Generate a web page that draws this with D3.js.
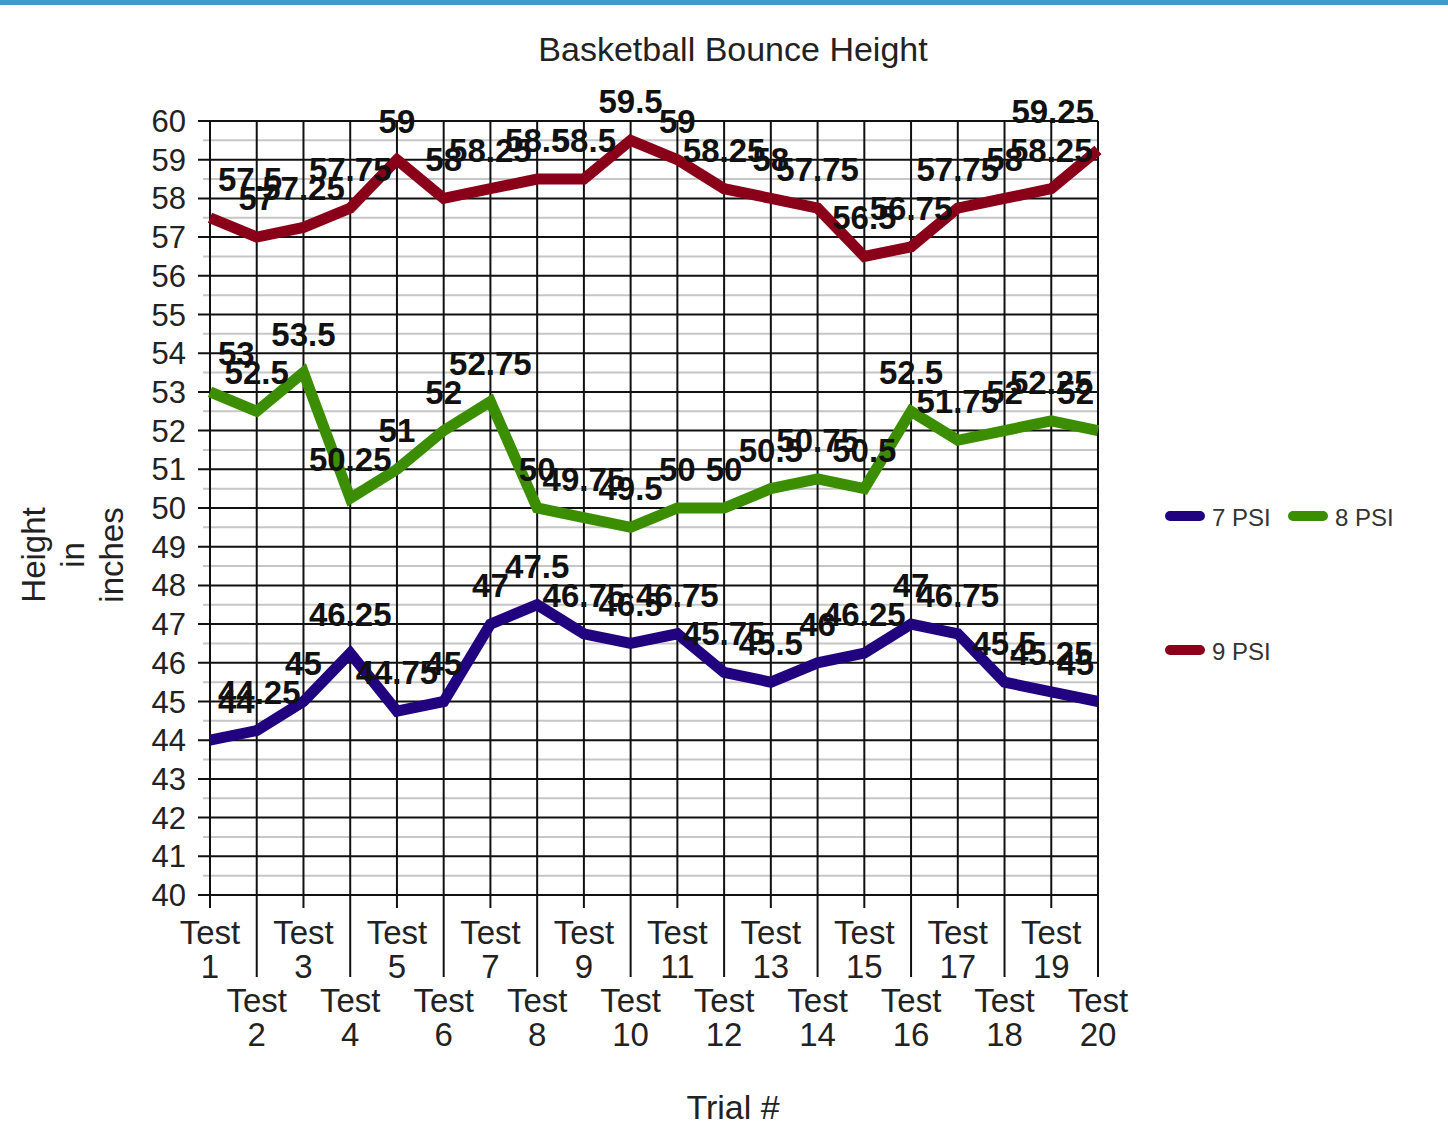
<!DOCTYPE html>
<meta charset="utf-8" />
<style>
  body { margin: 0; background: #fff; overflow: hidden; }
  svg { font-family: "Liberation Sans", Arial, sans-serif; }
</style>
<body>
<svg id="chart" width="1448" height="1133"></svg>
<script src="https://d3js.org/d3.v7.min.js"></script>
<script>
// data
var tests = d3.range(1, 21).map(function (i) { return "Test " + i; });
var psi7 = [44, 44.25, 45, 46.25, 44.75, 45, 47, 47.5, 46.75, 46.5, 46.75, 45.75, 45.5, 46, 46.25, 47, 46.75, 45.5, 45.25, 45];
var psi8 = [53, 52.5, 53.5, 50.25, 51, 52, 52.75, 50, 49.75, 49.5, 50, 50, 50.5, 50.75, 50.5, 52.5, 51.75, 52, 52.25, 52];
var psi9 = [57.5, 57, 57.25, 57.75, 59, 58, 58.25, 58.5, 58.5, 59.5, 59, 58.25, 58, 57.75, 56.5, 56.75, 57.75, 58, 58.25, 59.25];
var seriesNames = ["7 PSI", "8 PSI", "9 PSI"];
var seriesColors = ["#22037f", "#3b8e00", "#8a0018"];
var yTicks = d3.range(40, 61);

var pLeft = 210, pRight = 1098, pTop = 121, pBottom = 895;

var svg = d3.select("#chart");

// thin blue bar across the top of the screenshot
svg.append("rect").attr("x", 0).attr("y", 0).attr("width", 1448).attr("height", 5).attr("fill", "#3f9bcb");

var x = d3.scalePoint().domain(tests).range([pLeft, pRight]);
var y = d3.scaleLinear().domain([40, 60]).range([pBottom, pTop]);

var grid = svg.append("g");

// minor lines at the half units
grid.selectAll("line.minor")
  .data(d3.range(40.5, 60, 1))
  .enter().append("line")
  .attr("x1", pLeft - 7).attr("x2", pRight)
  .attr("y1", function (d) { return y(d); }).attr("y2", function (d) { return y(d); })
  .attr("stroke", "#c6c6c6").attr("stroke-width", 2);

// major horizontal lines + ticks
grid.selectAll("line.major")
  .data(yTicks)
  .enter().append("line")
  .attr("x1", pLeft - 12).attr("x2", pRight)
  .attr("y1", function (d) { return y(d); }).attr("y2", function (d) { return y(d); })
  .attr("stroke", "#111").attr("stroke-width", 2);

// vertical lines, even tests run down between the label rows
grid.selectAll("line.v")
  .data(tests)
  .enter().append("line")
  .attr("x1", function (d) { return x(d); }).attr("x2", function (d) { return x(d); })
  .attr("y1", pTop)
  .attr("y2", function (d, i) { return i % 2 == 0 ? pBottom + 13 : pBottom + 82; })
  .attr("stroke", "#111").attr("stroke-width", 2);

// y tick labels
svg.append("g").selectAll("text")
  .data(yTicks)
  .enter().append("text")
  .attr("x", 186)
  .attr("y", function (d) { return y(d) + 11; })
  .attr("text-anchor", "end")
  .attr("font-size", 31)
  .attr("fill", "#222")
  .text(function (d) { return d; });

// x tick labels, two rows staggered
var xl = svg.append("g").selectAll("text")
  .data(tests)
  .enter().append("text")
  .attr("text-anchor", "middle")
  .attr("font-size", 33)
  .attr("fill", "#222");
xl.append("tspan")
  .attr("x", function (d) { return x(d); })
  .attr("y", function (d, i) { return i % 2 == 0 ? 944 : 1012; })
  .text("Test");
xl.append("tspan")
  .attr("x", function (d) { return x(d); })
  .attr("y", function (d, i) { return i % 2 == 0 ? 978 : 1046; })
  .text(function (d) { return d.split(" ")[1]; });

// titles
svg.append("text").attr("x", 733).attr("y", 61).attr("text-anchor", "middle")
  .attr("font-size", 34).attr("fill", "#222").text("Basketball Bounce Height");
svg.append("text").attr("x", 733).attr("y", 1119).attr("text-anchor", "middle")
  .attr("font-size", 34).attr("fill", "#222").text("Trial #");

var yt = svg.append("text")
  .attr("transform", "translate(0,555) rotate(-90)")
  .attr("text-anchor", "middle")
  .attr("font-size", 33)
  .attr("fill", "#222");
["Height", "in", "inches"].forEach(function (s, i) {
  yt.append("tspan").attr("x", 0).attr("y", 45 + i * 39).text(s);
});

// the three lines
var line = d3.line()
  .x(function (d, i) { return x(tests[i]); })
  .y(function (d) { return y(d); });

var allSeries = [psi7, psi8, psi9];
svg.append("g").selectAll("path")
  .data(allSeries)
  .enter().append("path")
  .attr("d", line)
  .attr("fill", "none")
  .attr("stroke", function (d, i) { return seriesColors[i]; })
  .attr("stroke-width", 11)
  .attr("stroke-linejoin", "miter");

// value labels, a unit above each point, kept inside the plot
var lab = svg.append("g");
allSeries.forEach(function (vals) {
  vals.forEach(function (v, i) {
    var t = lab.append("text")
      .attr("text-anchor", "middle")
      .attr("font-size", 33)
      .attr("font-weight", "bold")
      .attr("fill", "#111")
      .attr("y", y(v) - 27)
      .text(v);
    var w = t.node().getComputedTextLength();
    var cx = x(tests[i]);
    cx = Math.max(cx, 218 + w / 2);
    cx = Math.min(cx, 1094 - w / 2);
    t.attr("x", cx);
  });
});

// legend
var legPos = [[1166, 516], [1289, 516], [1166, 650]];
var leg = svg.append("g").selectAll("g")
  .data(seriesNames)
  .enter().append("g")
  .attr("transform", function (d, i) { return "translate(" + legPos[i][0] + "," + legPos[i][1] + ")"; });
leg.append("line")
  .attr("x1", 4).attr("x2", 34).attr("y1", 0).attr("y2", 0)
  .attr("stroke", function (d, i) { return seriesColors[i]; })
  .attr("stroke-width", 10).attr("stroke-linecap", "round");
leg.append("text")
  .attr("x", 46).attr("y", 10)
  .attr("font-size", 24).attr("fill", "#333")
  .text(function (d) { return d; });
</script>
</body>
